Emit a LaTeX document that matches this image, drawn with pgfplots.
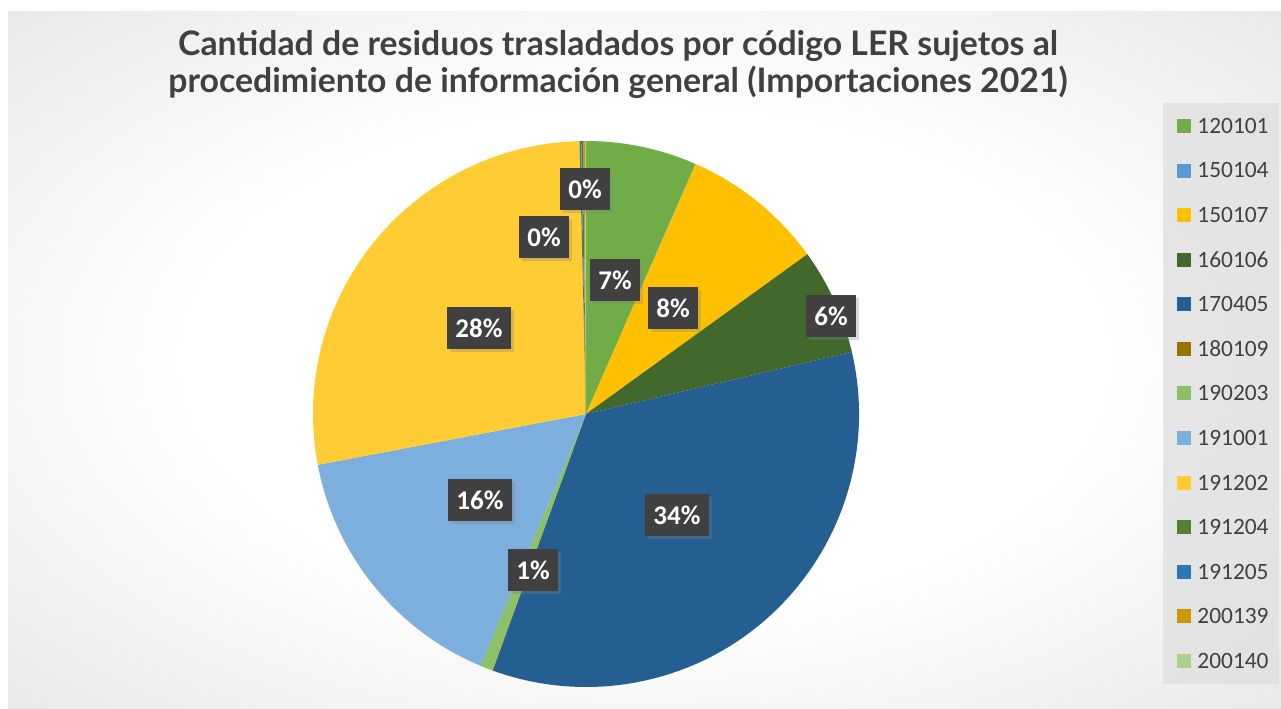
\documentclass[border=0pt]{standalone}
\usepackage{pgfplots}
\pgfplotsset{compat=1.18}
\usepackage{pgfplotstable}
\usepackage{fontspec}
\setmainfont{Carlito}
\newfontfamily\titlefont{Lato}
\usetikzlibrary{shadows}

% colours of the codes (Office palette)
\definecolor{c120101}{HTML}{70AD47}
\definecolor{c150104}{HTML}{5B9BD5}
\definecolor{c150107}{HTML}{FFC000}
\definecolor{c160106}{HTML}{43682B}
\definecolor{c170405}{HTML}{255E91}
\definecolor{c180109}{HTML}{997300}
\definecolor{c190203}{HTML}{8CC168}
\definecolor{c191001}{HTML}{7CAFDD}
\definecolor{c191202}{HTML}{FFCD33}
\definecolor{c191204}{HTML}{548235}
\definecolor{c191205}{HTML}{2E75B6}
\definecolor{c200139}{HTML}{CC9A00}
\definecolor{c200140}{HTML}{A9D18E}
\definecolor{txtgray}{HTML}{404040}
\definecolor{labbox}{HTML}{404040}
\definecolor{bgmid}{HTML}{D6D6D6}
\definecolor{bgedge}{HTML}{C2C2C2}
\definecolor{legbg}{HTML}{E0E0E0}

\pgfdeclareradialshading{chartbg}{\pgfpoint{0bp}{0bp}}{%
  color(0bp)=(white); color(18bp)=(white); color(50bp)=(bgmid); color(71bp)=(bgedge)}

\tikzset{lab/.style={fill=labbox, text=white, font=\bfseries\fontsize{13.5}{14}\selectfont,
    inner xsep=4.25pt, minimum height=21pt,
    drop shadow={shadow xshift=1.5pt, shadow yshift=-1.5pt, opacity=0.3}}}

% share of each LER code; lx/ly = data label position in pixels (-1 = no label)
\pgfplotstableread{
code   val    lx   ly
120101 6.56   615  280
150104 0.02   -1   -1
150107 8.47   673  308
160106 6.30   831  316
170405 34.20  677  515
180109 0.02   -1   -1
190203 0.75   533  570
191001 15.70  480  500
191202 27.60  479  328
191204 0.10   544  237
191205 0.10   -1   -1
200139 0.12   585  189
200140 0.06   -1   -1
}\piedata

\begin{document}
\begin{tikzpicture}
\pgfplotstablegetrowsof{\piedata}
\pgfmathtruncatemacro\lastrow{\pgfplotsretval-1}
\def\total{0}
\pgfplotsforeachungrouped \i in {0,...,\lastrow}{%
  \pgfplotstablegetelem{\i}{val}\of\piedata
  \pgfmathsetmacro\total{\total+\pgfplotsretval}%
}
\begin{axis}[
    scale only axis,
    width=640.5pt, height=354pt,
    xmin=0, xmax=1281, ymin=0, ymax=708,
    hide axis, clip=false,
]
% page and chart area
\fill[white] (axis cs:0,0) rectangle (axis cs:1281,708);
\shade[shading=chartbg] (axis cs:8,0) rectangle (axis cs:1281,696);

% wedges, clockwise from 12 o'clock
\def\cum{0}
\pgfplotsforeachungrouped \i in {0,...,\lastrow}{%
  \pgfplotstablegetelem{\i}{code}\of\piedata \let\code\pgfplotsretval
  \pgfplotstablegetelem{\i}{val}\of\piedata \let\v\pgfplotsretval
  \pgfmathsetmacro\a{90-360*(\cum/\total)}%
  \pgfmathsetmacro\cum{\cum+\v}%
  \pgfmathsetmacro\b{90-360*(\cum/\total)}%
  \edef\cmd{\noexpand\fill[c\code] (axis cs:586,294) -- ++(\a:136.5pt)
    arc[start angle=\a, end angle=\b, radius=136.5pt] -- cycle;}%
  \cmd
}

% data labels
\pgfplotsforeachungrouped \i in {0,...,\lastrow}{%
  \pgfplotstablegetelem{\i}{val}\of\piedata \let\v\pgfplotsretval
  \pgfplotstablegetelem{\i}{lx}\of\piedata \let\lx\pgfplotsretval
  \pgfplotstablegetelem{\i}{ly}\of\piedata
  \pgfmathsetmacro\ly{708-\pgfplotsretval}%
  \pgfmathtruncatemacro\pct{round(100*(\v/\total))}%
  \ifdim\lx pt>0pt
    \edef\cmd{\noexpand\node[lab] at (axis cs:\lx,\ly) {\pct\noexpand\%};}%
    \cmd
  \fi
}

% legend
\fill[legbg, opacity=0.8] (axis cs:1163,605) rectangle (axis cs:1279,24);
\pgfplotsforeachungrouped \i in {0,...,\lastrow}{%
  \pgfplotstablegetelem{\i}{code}\of\piedata \let\code\pgfplotsretval
  \pgfmathsetmacro\yc{708-(126+44.58*\i)}%
  \pgfmathsetmacro\ya{\yc-7}%
  \pgfmathsetmacro\yb{\yc+7}%
  \pgfmathsetmacro\ybase{\yc-7.4}%
  \edef\cmd{\noexpand\fill[c\code] (axis cs:1177,\ya) rectangle (axis cs:1191,\yb);
    \noexpand\node[anchor=base west, inner sep=0pt, text=txtgray,
      font=\noexpand\fontsize{11.7}{14}\noexpand\selectfont] at (axis cs:1197,\ybase) {\code};}%
  \cmd
}

% title
\node[text=txtgray, align=center, font=\titlefont\bfseries\fontsize{16.9}{18.5}\selectfont]
  at (axis cs:618,644) {Cantidad de residuos trasladados por código LER sujetos al\\
  procedimiento de información general (Importaciones 2021)};
\end{axis}
\end{tikzpicture}
\end{document}
